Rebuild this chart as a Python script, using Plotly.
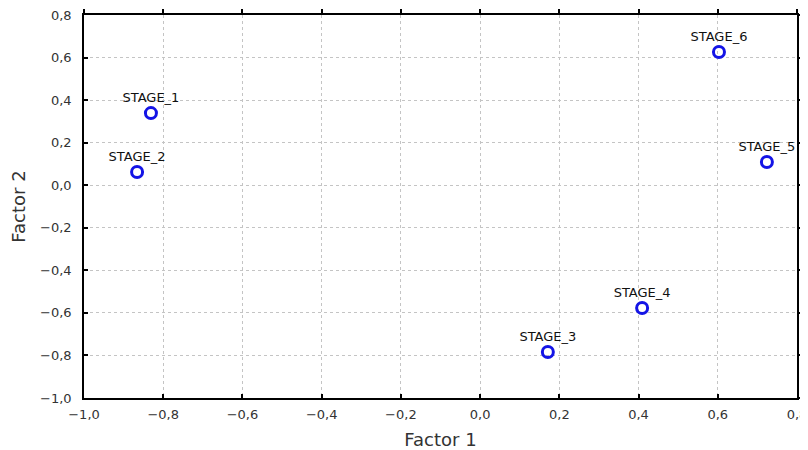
import plotly.graph_objects as go

stages = ["STAGE_1", "STAGE_2", "STAGE_3", "STAGE_4", "STAGE_5", "STAGE_6"]
factor1 = [-0.831, -0.866, 0.171, 0.409, 0.724, 0.603]
factor2 = [0.339, 0.062, -0.784, -0.577, 0.109, 0.626]
tick_vals = [-1.0, -0.8, -0.6, -0.4, -0.2, 0.0, 0.2, 0.4, 0.6, 0.8]
axis_range = [-1.0, 0.8]

FONT = "DejaVu Sans, Verdana, Arial"

fig = go.Figure()
fig.add_trace(go.Scatter(
    x=factor1, y=factor2, mode="markers+text",
    text=stages, textposition="top center",
    textfont=dict(family=FONT, size=13, color="#111111"),
    marker=dict(symbol="circle-open", size=11, color="#1414e6", line=dict(width=3, color="#1414e6")),
    cliponaxis=True, showlegend=False,
))
# invisible helper trace to carry the top/right tick axes
fig.add_trace(go.Scatter(
    x=factor1, y=factor2, xaxis="x2", yaxis="y2", mode="markers",
    marker=dict(opacity=0), hoverinfo="skip", showlegend=False,
))

axis_common = dict(
    range=axis_range, tickvals=tick_vals, tickformat=".1f",
    showline=True, linecolor="black", linewidth=1.5,
    ticks="inside", ticklen=4, tickcolor="black", tickwidth=1.5,
    showgrid=True, gridcolor="#c4c4c4", griddash="dot", gridwidth=1,
    zeroline=False, automargin=False, ticklabeloverflow="allow",
    tickfont=dict(family=FONT, size=13, color="#333333"),
    title_font=dict(family=FONT, size=18, color="#333333"),
)
mirror_common = dict(
    range=axis_range, tickvals=tick_vals,
    showline=True, linecolor="black", linewidth=1.5,
    ticks="outside", ticklen=4, tickcolor="black", tickwidth=1.5,
    showgrid=False, zeroline=False, showticklabels=False, automargin=False,
)

fig.update_layout(
    width=808, height=442,
    margin=dict(l=76, r=19, t=7, b=52),
    paper_bgcolor="white", plot_bgcolor="white",
    separators=",.",
    xaxis=dict(title=dict(text="Factor 1"), ticklabelstandoff=4, **axis_common),
    yaxis=dict(title=dict(text="Factor 2"), ticklabelstandoff=8, **axis_common),
    xaxis2=dict(overlaying="x", side="top", anchor="y", **mirror_common),
    yaxis2=dict(overlaying="y", side="right", anchor="x", **mirror_common),
)

fig.write_html("out.html")
